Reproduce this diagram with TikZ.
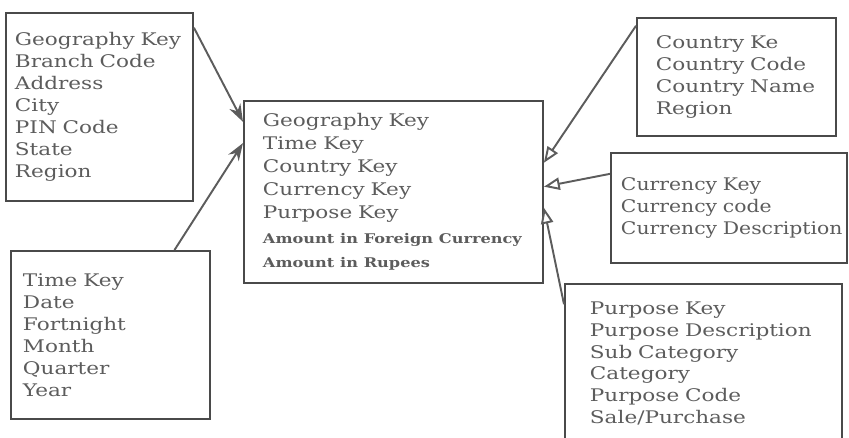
\documentclass[tikz,border=0pt]{standalone}
\usepackage{fontspec}
\usepackage{tikz}
\usetikzlibrary{arrows.meta}
\newfontfamily\slabfont[FakeStretch=1.24]{DejaVu Serif}
\newfontfamily\slabnarrow[FakeStretch=1.17]{DejaVu Serif}
\newfontfamily\slabbold[FakeStretch=1.21]{DejaVu Serif Bold}
\definecolor{boxgray}{HTML}{4A4A4A}
\definecolor{inkgray}{HTML}{5C5C5C}

\begin{document}
\begin{tikzpicture}[
  x=0.02cm, y=-0.02cm,
  tablebox/.style={draw=boxgray, line width=1.1pt, anchor=north west, align=left,
    text=inkgray, font=\slabfont\fontsize{9.9}{12.5}\selectfont, inner ysep=0pt},
  linkin/.style={draw=inkgray, line width=1.1pt, -{Stealth[length=10pt, width=7pt]}},
  linkout/.style={draw=inkgray, line width=1.1pt, -{Triangle[fill=white, length=9pt, width=7pt]}},
]
\useasboundingbox (0,0) rectangle (849,438);
% dimension tables round the fact table (pixel grid, y downwards)
\node[tablebox, text width=169*0.02cm, minimum height=188*0.02cm,
      inner xsep=9*0.02cm] (geo) at (5,12)
  {Geography Key\\Branch Code\\Address\\City\\PIN Code\\State\\Region};
\node[tablebox, text width=175*0.02cm, minimum height=168*0.02cm,
      inner xsep=12*0.02cm] (time) at (10,250)
  {Time Key\\Date\\Fortnight\\Month\\Quarter\\Year};
\node[tablebox, text width=261*0.02cm, minimum height=182*0.02cm,
      inner xsep=19*0.02cm, font=\slabfont\fontsize{9.9}{13.1}\selectfont] (fact) at (243,100)
  {Geography Key\\Time Key\\Country Key\\Currency Key\\Purpose Key\\[1.1pt]
   {\slabbold\fontsize{7.6}{13.1}\selectfont Amount in Foreign Currency}\\[0.5pt]
   {\slabbold\fontsize{7.6}{13.1}\selectfont Amount in Rupees}};
\node[tablebox, text width=161*0.02cm, minimum height=118*0.02cm,
      inner xsep=19*0.02cm] (country) at (636,17)
  {Country Ke\\Country Code\\Country Name\\Region};
\node[tablebox, text width=216*0.02cm, minimum height=110*0.02cm,
      inner xsep=10*0.02cm, font=\slabnarrow\fontsize{9.9}{12.5}\selectfont] (cur) at (610,152)
  {Currency Key\\Currency code\\\mbox{Currency Description}};
\node[tablebox, text width=227*0.02cm, minimum height=159*0.02cm,
      inner xsep=25*0.02cm] (purp) at (564,283)
  {Purpose Key\\Purpose Description\\Sub Category\\Category\\Purpose Code\\Sale/Purchase};

% links into the fact table
\draw[linkin] (geo.40) -- (fact.155);
\draw[linkin] (time.53) -- (fact.162);
\draw[linkout] (country.153) -- (fact.11);
\draw[linkout] (cur.164) -- (fact.2);
\draw[linkout] (purp.157) -- (fact.-6);
\end{tikzpicture}
\end{document}
